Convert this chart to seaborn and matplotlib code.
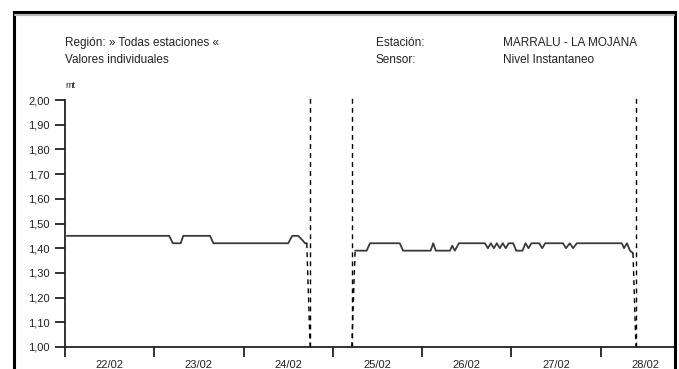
"""Nivel instantaneo MARRALU - LA MOJANA, valores individuales."""
import matplotlib
matplotlib.use("Agg")
import matplotlib.pyplot as plt
from matplotlib.patches import Rectangle
import pandas as pd
import seaborn as sns

# hours since 22/02 00:00 and level (mt)
hours_seg1 = [0.5, 28.0, 29.0, 31.1, 31.8, 39.0, 39.9, 60.0, 61.1, 62.7, 64.0, 64.5, 65.0]
level_seg1 = [1.45, 1.45, 1.42, 1.42, 1.45, 1.45, 1.42, 1.42, 1.45, 1.45, 1.43, 1.42, 1.42]

hours_seg2 = [78.0, 81.1, 82.0, 90.0, 90.9, 98.3, 99.0, 99.7, 103.5, 104.1, 104.8, 105.9,
              112.9, 113.7, 114.5, 115.3, 116.1, 116.9, 117.7, 118.5, 119.3, 120.5, 121.3,
              123.0, 123.8, 124.6, 125.4, 127.5, 128.3, 129.1, 133.9, 134.7, 135.7, 136.6,
              137.6, 149.7, 150.3, 151.1, 151.9, 152.7]
level_seg2 = [1.39, 1.39, 1.42, 1.42, 1.39, 1.39, 1.42, 1.39, 1.39, 1.41, 1.39, 1.42,
              1.42, 1.40, 1.42, 1.40, 1.42, 1.40, 1.42, 1.40, 1.42, 1.42, 1.39,
              1.39, 1.42, 1.40, 1.42, 1.42, 1.40, 1.42, 1.42, 1.40, 1.42, 1.40,
              1.42, 1.42, 1.40, 1.42, 1.39, 1.38]

gap_marks = [65.9, 77.1, 153.5]
day_labels = ["22/02", "23/02", "24/02", "25/02", "26/02", "27/02", "28/02"]
y_ticks = [1.0, 1.1, 1.2, 1.3, 1.4, 1.5, 1.6, 1.7, 1.8, 1.9, 2.0]

sns.set_theme(style="white")
plt.rcParams["font.family"] = ["Liberation Sans", "DejaVu Sans"]

fig = plt.figure(figsize=(6.79, 3.69), dpi=100)
ax = fig.add_axes([65 / 679, 22 / 369, 610 / 679, 247 / 369])

df1 = pd.DataFrame({"hora": hours_seg1, "nivel": level_seg1})
df2 = pd.DataFrame({"hora": hours_seg2, "nivel": level_seg2})
sns.lineplot(data=df1, x="hora", y="nivel", ax=ax, color="#3a3a3a", linewidth=1.3)
sns.lineplot(data=df2, x="hora", y="nivel", ax=ax, color="#3a3a3a", linewidth=1.3)

# dashed connectors to the missing data
dash = dict(color="black", linewidth=1.0, linestyle=(0, (3.5, 3)), clip_on=False)
ax.plot([hours_seg1[-1], gap_marks[0]], [level_seg1[-1], 1.0], **dash)
ax.plot([gap_marks[1], hours_seg2[0]], [1.0, level_seg2[0]], **dash)
ax.plot([hours_seg2[-1], gap_marks[2]], [level_seg2[-1], 1.0], **dash)
for g in gap_marks:
    ax.plot([g, g], [1.0, 2.012], **dash)

ax.set_xlim(0, 164)
ax.set_ylim(1.0, 2.0)
ax.set_xlabel("")
ax.set_ylabel("")

ax.set_xticks([24 * i for i in range(7)])
ax.set_xticklabels([])
ax.set_xticks([24 * i + 12 for i in range(7)], minor=True)
ax.set_xticklabels(day_labels, minor=True)
ax.tick_params(axis="x", which="major", direction="out", length=7, width=1.3,
               color="#222222", bottom=True)
ax.tick_params(axis="x", which="minor", length=0, labelsize=8, pad=9, colors="#222222")

ax.set_yticks(y_ticks)
ax.set_yticklabels([f"{v:.2f}".replace(".", ",") for v in y_ticks])
ax.tick_params(axis="y", direction="out", length=7, width=1.3, color="#222222",
               labelsize=8, pad=4, left=True, labelcolor="#222222")

for side in ["top", "right"]:
    ax.spines[side].set_visible(False)
for side in ["left", "bottom"]:
    ax.spines[side].set_color("#222222")
    ax.spines[side].set_linewidth(1.3)

# header texts
txt = dict(fontsize=8.5, color="#222222", va="center", ha="left")
fig.text(65 / 679, 1 - 43 / 369, "Región: » Todas estaciones «", **txt)
fig.text(65 / 679, 1 - 60 / 369, "Valores individuales", **txt)
fig.text(65 / 679, 1 - 85 / 369, "mt", fontsize=6.5, color="#222222", va="center", ha="left")
fig.text(376 / 679, 1 - 43 / 369, "Estación:", **txt)
fig.text(376 / 679, 1 - 60 / 369, "Sensor:", **txt)
fig.text(503 / 679, 1 - 43 / 369, "MARRALU - LA MOJANA", **txt)
fig.text(503 / 679, 1 - 60 / 369, "Nivel Instantaneo", **txt)

# outer frame of the report
fig.add_artist(Rectangle((13.5 / 679, -0.1), 661.5 / 679, 1.1 - 12 / 369,
                         transform=fig.transFigure, fill=False,
                         edgecolor="black", linewidth=2.2))
fig.add_artist(plt.Line2D([15 / 679, 674 / 679], [1 - 15 / 369, 1 - 15 / 369],
                          transform=fig.transFigure, color="#b8b8b8", linewidth=1.5))

plt.savefig("out.png", dpi=100)
plt.close(fig)
